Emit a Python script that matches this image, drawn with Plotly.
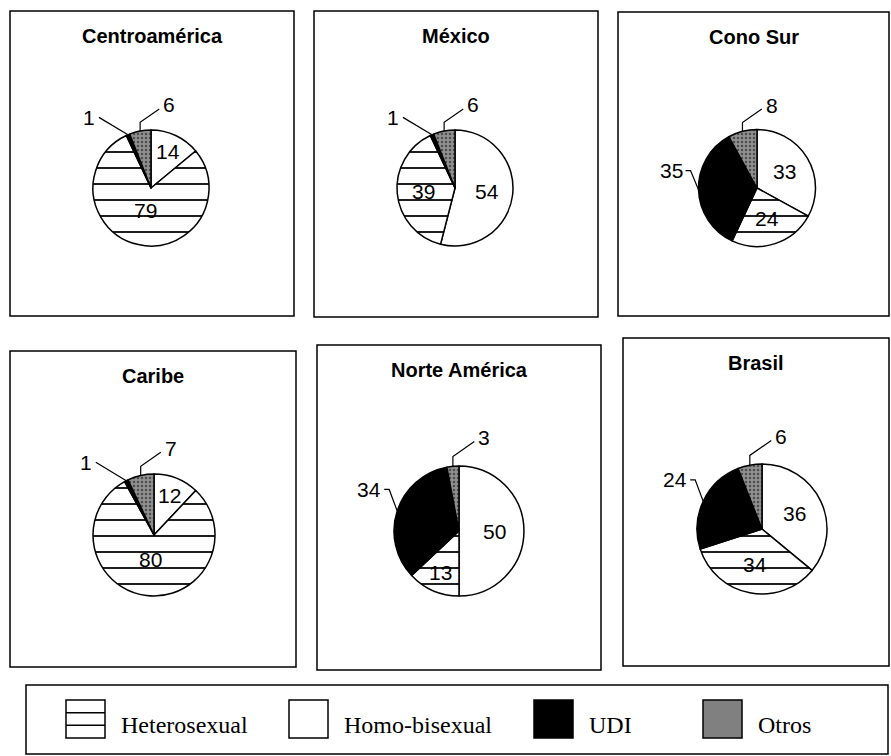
import math
import plotly.graph_objects as go

# Share of AIDS cases by transmission category, per region (%)
regions = ["Centroamérica", "México", "Cono Sur", "Caribe", "Norte América", "Brasil"]
categories = ["Homo-bisexual", "Heterosexual", "UDI", "Otros"]
homo = [14, 54, 33, 12, 50, 36]
hetero = [79, 39, 24, 80, 13, 34]
udi = [1, 1, 35, 1, 34, 24]
otros = [6, 6, 8, 7, 3, 6]
legend_order = ["Heterosexual", "Homo-bisexual", "UDI", "Otros"]

W, H = 891, 756

# frame of each small panel: left, top, right, bottom (px)
panels = [(10, 11, 294, 316), (314, 11, 598, 317), (618, 12, 889, 316),
          (10, 351, 296, 667), (317, 345, 601, 670), (623, 338, 889, 666)]
# pie centre and radius in each panel (px)
pie_geom = [(151, 188, 58), (455, 188, 58), (757, 188, 58.5),
            (154, 535, 61), (459, 531, 65), (762, 529, 65)]

SANS = "Liberation Sans, Arial, sans-serif"
SERIF = "Liberation Serif, Times New Roman, serif"

slice_style = {
    "Homo-bisexual": dict(color="white", shape="", fg="black", bg="white", size=8, solid=0.1),
    "Heterosexual": dict(color="white", shape="-", fg="black", bg="white", size=16, solid=0.11),
    "UDI": dict(color="black", shape="", fg="black", bg="black", size=8, solid=0.1),
    "Otros": dict(color="#808080", shape=".", fg="#4d4d4d", bg="#909090", size=4, solid=0.3),
}


def px(x):
    return x / W


def py(y):
    return 1 - y / H


def polar(cx, cy, rad, theta):
    return cx + rad * math.sin(theta), cy - rad * math.cos(theta)


fig = go.Figure()
shapes = []
annotations = []

series = {"Homo-bisexual": homo, "Heterosexual": hetero, "UDI": udi, "Otros": otros}

for i, region in enumerate(regions):
    vals = [series[c][i] for c in categories]
    cx, cy, r = pie_geom[i]
    st = [slice_style[c] for c in categories]

    fig.add_trace(go.Pie(
        labels=categories, values=vals, sort=False, direction="clockwise", rotation=0,
        textinfo="none", showlegend=False, name=region,
        hovertemplate="%{label}: %{value}<extra>" + region + "</extra>",
        domain=dict(x=[px(cx - r), px(cx + r)], y=[py(cy + r), py(cy - r)]),
        marker=dict(
            colors=[s["color"] for s in st],
            line=dict(color="black", width=1.5),
            pattern=dict(
                shape=[s["shape"] for s in st],
                fgcolor=[s["fg"] for s in st],
                bgcolor=[s["bg"] for s in st],
                size=[s["size"] for s in st],
                solidity=[s["solid"] for s in st],
                fillmode="replace",
            ),
        ),
    ))

    # panel frame and title
    l, t, rr, b = panels[i]
    shapes.append(dict(type="rect", xref="paper", yref="paper",
                       x0=px(l), x1=px(rr), y0=py(b), y1=py(t),
                       line=dict(color="black", width=1.5)))
    annotations.append(dict(text=region, xref="paper", yref="paper",
                            x=px((l + rr) / 2), y=py(t + 25), showarrow=False,
                            xanchor="center", yanchor="middle",
                            font=dict(family=SANS, size=20, color="black", weight="bold")))

    # value labels
    total = sum(vals)
    cum = 0
    for cat, v in zip(categories, vals):
        frac = v / total
        mid = (cum + v / 2) / total * 2 * math.pi
        cum += v
        label_font = dict(family=SANS, size=21, color="black")
        if cat in ("Homo-bisexual", "Heterosexual"):
            f = 0.4 if frac >= 0.75 else (0.7 if frac < 0.2 else 0.55)
            x, y = polar(cx, cy, f * r, mid)
            annotations.append(dict(text=str(v), xref="paper", yref="paper",
                                    x=px(x), y=py(y), showarrow=False,
                                    xanchor="center", yanchor="middle", font=label_font))
            continue

        tx, ty = polar(cx, cy, r, mid)
        if cat == "Otros":
            ex, ey = tx, ty - 0.15 * r
            fx, fy = ex + 0.33 * r, ey - 0.23 * r
            pts = [(tx, ty), (ex, ey), (fx, fy)]
            lx, ly, anchor = fx + 2, fy - 4, "left"
        elif frac < 0.05:
            fx, fy = tx - 0.5 * r, ty - 0.3 * r
            pts = [(tx, ty), (fx, fy)]
            lx, ly, anchor = fx - 2, fy, "right"
        else:
            ex, ey = tx - 8, ty - 0.33 * r
            fx, fy = ex - 5, ey
            pts = [(tx, ty), (ex, ey), (fx, fy)]
            lx, ly, anchor = fx - 1, fy, "right"

        path = "M " + " L ".join(f"{px(a):.5f},{py(b_):.5f}" for a, b_ in pts)
        shapes.append(dict(type="path", xref="paper", yref="paper", path=path,
                           line=dict(color="black", width=1.2)))
        annotations.append(dict(text=str(v), xref="paper", yref="paper",
                                x=px(lx), y=py(ly), showarrow=False,
                                xanchor=anchor, yanchor="middle", font=label_font))

# legend box with category keys
shapes.append(dict(type="rect", xref="paper", yref="paper",
                   x0=px(26), x1=px(888), y0=py(754), y1=py(685),
                   line=dict(color="black", width=1.5)))
key_left = [66, 289, 534, 703]
key_w, key_top, key_bot = 39, 700, 738
for name, kx in zip(legend_order, key_left):
    st = slice_style[name]
    fill = st["color"]
    shapes.append(dict(type="rect", xref="paper", yref="paper",
                       x0=px(kx), x1=px(kx + key_w), y0=py(key_bot), y1=py(key_top),
                       fillcolor=fill, line=dict(color="black", width=1.5)))
    if st["shape"] == "-":
        for k in (1, 2):
            yy = key_top + k * (key_bot - key_top) / 3
            shapes.append(dict(type="line", xref="paper", yref="paper",
                               x0=px(kx), x1=px(kx + key_w), y0=py(yy), y1=py(yy),
                               line=dict(color="black", width=1.5)))
    annotations.append(dict(text=name, xref="paper", yref="paper",
                            x=px(kx + key_w + 14), y=py(725), showarrow=False,
                            xanchor="left", yanchor="middle",
                            font=dict(family=SERIF, size=24, color="black")))

fig.update_layout(
    width=W, height=H,
    margin=dict(l=0, r=0, t=0, b=0),
    paper_bgcolor="white", plot_bgcolor="white",
    shapes=shapes, annotations=annotations,
)

fig.write_html("out.html")
